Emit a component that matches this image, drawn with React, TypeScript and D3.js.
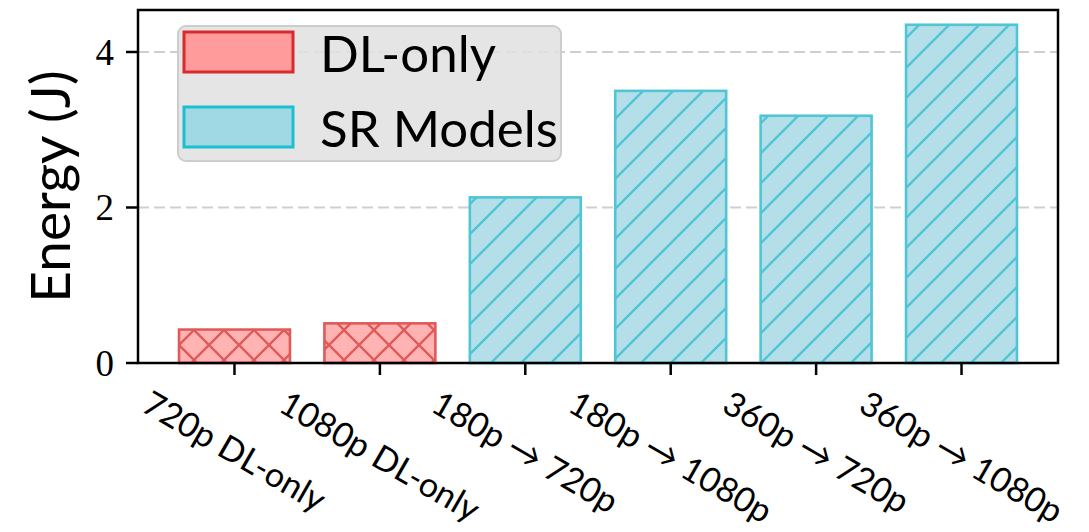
import React, { useEffect, useRef } from "react";
import * as d3 from "d3";

const categories = [
  "720p DL-only",
  "1080p DL-only",
  "180p → 720p",
  "180p → 1080p",
  "360p → 720p",
  "360p → 1080p",
];
const energy = [0.43, 0.51, 2.13, 3.5, 3.18, 4.35];
const groups = ["DL-only", "DL-only", "SR Models", "SR Models", "SR Models", "SR Models"];
const legendLabels = ["DL-only", "SR Models"];
const yTicks = [0, 2, 4];
const yMax = 4.54;

const W = 1089;
const H = 532;
const M = { left: 138, right: 1058, top: 10, bottom: 363 };

const SANS = "Lato, 'DejaVu Sans', sans-serif";
const SERIF = "'Liberation Serif', 'DejaVu Serif', serif";

const style: Record<string, { fill: string; edge: string; lfill: string; ledge: string; hatch: string }> = {
  "DL-only": { fill: "#ffb3b3", edge: "#e05a5a", lfill: "#ff9b9b", ledge: "#d92b2b", hatch: "url(#hatchX)" },
  "SR Models": { fill: "#b4dfe9", edge: "#4fc5d5", lfill: "#a0d8e4", ledge: "#1cbfd0", hatch: "url(#hatchSlash)" },
};

export default function App() {
  const ref = useRef<SVGSVGElement | null>(null);

  useEffect(() => {
    const svg = d3.select(ref.current);
    svg.selectAll("*").remove();

    const x = d3
      .scaleBand<string>()
      .domain(categories)
      .range([M.left, M.right])
      .paddingInner(0.237)
      .paddingOuter(0.282);
    const y = d3.scaleLinear().domain([0, yMax]).range([M.bottom, M.top]);

    const defs = svg.append("defs");
    const pSlash = defs
      .append("pattern")
      .attr("id", "hatchSlash")
      .attr("patternUnits", "userSpaceOnUse")
      .attr("x", 14)
      .attr("width", 30)
      .attr("height", 30);
    pSlash
      .append("path")
      .attr("d", "M0,30 L30,0 M-7.5,7.5 L7.5,-7.5 M22.5,37.5 L37.5,22.5")
      .attr("stroke", style["SR Models"].edge)
      .attr("stroke-width", 2.4);
    const pX = defs
      .append("pattern")
      .attr("id", "hatchX")
      .attr("patternUnits", "userSpaceOnUse")
      .attr("x", 14)
      .attr("width", 30)
      .attr("height", 30);
    pX.append("path")
      .attr(
        "d",
        "M0,30 L30,0 M-7.5,7.5 L7.5,-7.5 M22.5,37.5 L37.5,22.5 M0,0 L30,30 M-7.5,22.5 L7.5,37.5 M22.5,-7.5 L37.5,7.5"
      )
      .attr("stroke", style["DL-only"].edge)
      .attr("stroke-width", 2.4);

    // grid
    svg
      .append("g")
      .selectAll("line")
      .data(yTicks.filter((t) => t > 0))
      .join("line")
      .attr("x1", M.left)
      .attr("x2", M.right)
      .attr("y1", (d) => y(d))
      .attr("y2", (d) => y(d))
      .attr("stroke", "#cfcfcf")
      .attr("stroke-width", 2)
      .attr("stroke-dasharray", "11,5");

    // bars
    const bars = svg
      .append("g")
      .selectAll("g")
      .data(categories.map((c, i) => ({ c, v: energy[i], g: groups[i] })))
      .join("g");
    bars
      .append("rect")
      .attr("x", (d) => x(d.c)!)
      .attr("y", (d) => y(d.v))
      .attr("width", x.bandwidth())
      .attr("height", (d) => y(0) - y(d.v))
      .attr("fill", (d) => style[d.g].fill);
    bars
      .append("rect")
      .attr("x", (d) => x(d.c)!)
      .attr("y", (d) => y(d.v))
      .attr("width", x.bandwidth())
      .attr("height", (d) => y(0) - y(d.v))
      .attr("fill", (d) => style[d.g].hatch)
      .attr("stroke", (d) => style[d.g].edge)
      .attr("stroke-width", 2.6);

    // legend
    const lg = svg.append("g");
    lg.append("rect")
      .attr("x", 178)
      .attr("y", 26)
      .attr("width", 383)
      .attr("height", 135)
      .attr("rx", 8)
      .attr("fill", "#e1e1e1")
      .attr("fill-opacity", 0.88)
      .attr("stroke", "#cdcdcd")
      .attr("stroke-width", 2);
    legendLabels.forEach((l, i) => {
      const yy = 32 + i * 75;
      lg.append("rect")
        .attr("x", 184)
        .attr("y", yy)
        .attr("width", 109)
        .attr("height", 40)
        .attr("fill", style[l].lfill)
        .attr("stroke", style[l].ledge)
        .attr("stroke-width", 3);
      lg.append("text")
        .attr("x", 320)
        .attr("y", yy + 40)
        .attr("font-family", SANS)
        .attr("font-size", 51)
        .attr("fill", "#000")
        .text(l);
    });

    // spines
    svg
      .append("rect")
      .attr("x", M.left)
      .attr("y", M.top)
      .attr("width", M.right - M.left)
      .attr("height", M.bottom - M.top)
      .attr("fill", "none")
      .attr("stroke", "#000")
      .attr("stroke-width", 2.5);

    // y ticks
    const yg = svg.append("g");
    yTicks.forEach((t) => {
      yg.append("line")
        .attr("x1", M.left - 12)
        .attr("x2", M.left)
        .attr("y1", y(t))
        .attr("y2", y(t))
        .attr("stroke", "#000")
        .attr("stroke-width", 2.5);
      yg.append("text")
        .attr("x", M.left - 24)
        .attr("y", y(t))
        .attr("dy", "0.34em")
        .attr("text-anchor", "end")
        .attr("font-family", SERIF)
        .attr("font-size", 37)
        .text(String(t));
    });

    // x ticks
    const xg = svg.append("g");
    const ang = 30;
    const rad = (ang * Math.PI) / 180;
    const fs = 34;
    categories.forEach((c) => {
      const cx = x(c)! + x.bandwidth() / 2;
      xg.append("line")
        .attr("x1", cx)
        .attr("x2", cx)
        .attr("y1", M.bottom)
        .attr("y2", M.bottom + 12)
        .attr("stroke", "#000")
        .attr("stroke-width", 2.5);
      const t = xg
        .append("text")
        .attr("text-anchor", "middle")
        .attr("dy", "0.35em")
        .attr("font-family", SANS)
        .attr("font-size", fs)
        .text(c);
      const w = (t.node() as SVGTextElement).getComputedTextLength();
      const cy = 390 + (w / 2) * Math.sin(rad) + 0.35 * fs * Math.cos(rad);
      t.attr("transform", `translate(${cx},${cy}) rotate(${ang})`);
    });

    // y label
    svg
      .append("text")
      .attr("transform", `translate(70,${(M.top + M.bottom) / 2}) rotate(-90)`)
      .attr("text-anchor", "middle")
      .attr("font-family", SANS)
      .attr("font-size", 55)
      .text("Energy (J)");
  }, []);

  return (
    <svg
      ref={ref}
      width={W}
      height={H}
      style={{ position: "absolute", left: 0, top: 0, background: "#fff" }}
    />
  );
}
